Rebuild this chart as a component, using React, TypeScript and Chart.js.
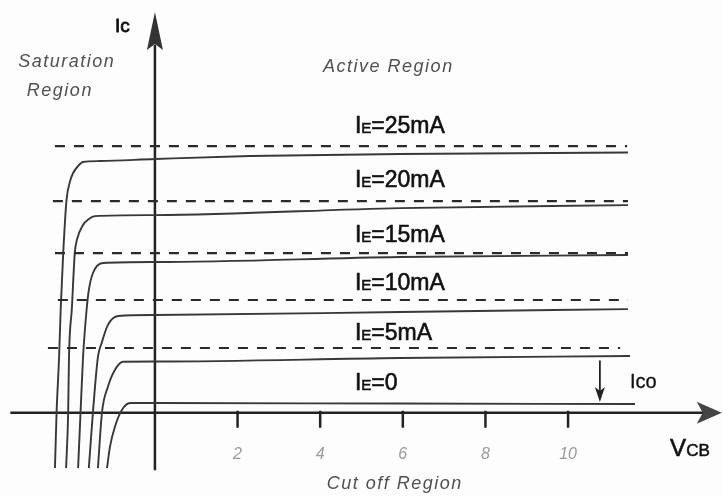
import React, { useEffect, useRef } from "react";
import { Chart, registerables } from "chart.js";

Chart.register(...registerables);

const W = 723;
const H = 497;

// Characteristic curves: VCB (V) vs IC (mA)
const curveNames = ["IE=25mA", "IE=20mA", "IE=15mA", "IE=10mA", "IE=5mA", "IE=0"];

const vcb25 = [-2.42, -2.38, -2.32, -2.28, -2.22, -2.14, -2.06, -1.98, -1.86, -1.74, -1.33, 0, 2.3, 5.93, 11.45];
const ic25 = [-5.19, 0.07, 5.22, 9.82, 14.97, 19.94, 21.63, 22.48, 23.13, 23.51, 23.6, 23.79, 24.07, 24.26, 24.4];

const vcb20 = [-2.15, -2.1, -2.08, -2.01, -1.94, -1.89, -1.74, -1.6, -1.45, 0, 5.93, 11.45];
const ic20 = [-5.19, 0.07, 5.22, 9.82, 14.97, 16.19, 17.6, 18.16, 18.44, 18.53, 19.19, 19.47];

const vcb15 = [-1.86, -1.8, -1.74, -1.65, -1.6, -1.5, -1.26, 0, 5.93, 11.45];
const ic15 = [-5.19, 0.07, 5.22, 9.82, 11.5, 13.1, 14.04, 14.13, 14.6, 14.79];

const vcb10 = [-1.6, -1.5, -1.38, -1.29, -1.14, -0.89, 0, 5.93, 11.45];
const ic10 = [-5.19, 0.07, 5.22, 6.54, 8.22, 9.07, 9.16, 9.44, 9.72];

const vcb5 = [-1.38, -1.28, -1.14, -0.97, -0.77, 0, 5.93, 11.5];
const ic5 = [-5.19, 0.07, 2.41, 4.01, 4.78, 4.8, 5.13, 5.32];

const vcb0 = [-1.16, -1.09, -0.97, -0.8, -0.6, 0, 5.93, 11.62];
const ic0 = [-5.19, -3.22, -1.34, 0.25, 0.91, 0.91, 0.86, 0.82];

// Dashed IE reference levels
const dashedLevels = [25.0, 19.85, 14.97, 10.57, 6.07];
const dashedStart = [-2.42, -2.47, -2.42, -2.35, -2.59];
const dashedEnd = [11.43, 11.45, 11.45, 11.45, 11.26];

// Axis ticks
const xTicks = [2, 4, 6, 8, 10];
const xTickLabels = ["2", "4", "6", "8", "10"];

// Axis extents (data units)
const X_MIN = -3.75;
const X_MAX = 13.75;
const Y_MIN = -7.9;
const Y_MAX = 38.7;

const curvesX = [vcb25, vcb20, vcb15, vcb10, vcb5, vcb0];
const curvesY = [ic25, ic20, ic15, ic10, ic5, ic0];

// Curve label anchors (left x, baseline y) in data units
const curveLabelX = [4.84, 4.84, 4.84, 4.84, 4.84, 4.84];
const curveLabelY = [26.22, 21.16, 16.0, 11.5, 6.82, 2.13];

const FONT = "'Liberation Sans', Arial, sans-serif";

type Part = [string, number];

function drawParts(
  ctx: CanvasRenderingContext2D,
  x: number,
  y: number,
  parts: Part[],
  italic = false,
  spacing = "0px",
  heavy = 0
) {
  let cx = x;
  (ctx as any).letterSpacing = spacing;
  for (const [t, s] of parts) {
    ctx.font = `${italic ? "italic " : ""}${s}px ${FONT}`;
    ctx.fillText(t, cx, y);
    if (heavy > 0) {
      ctx.lineWidth = heavy;
      ctx.strokeStyle = ctx.fillStyle as string;
      ctx.strokeText(t, cx, y);
    }
    cx += ctx.measureText(t).width;
  }
  (ctx as any).letterSpacing = "0px";
}

const diagramPlugin = {
  id: "diagram",
  beforeDraw(chart: any) {
    const ctx = chart.ctx as CanvasRenderingContext2D;
    ctx.save();
    ctx.fillStyle = "#fdfdfd";
    ctx.fillRect(0, 0, chart.width, chart.height);
    ctx.restore();
  },
  beforeDatasetsDraw(chart: any) {
    const ctx = chart.ctx as CanvasRenderingContext2D;
    const xs = chart.scales.x;
    const ys = chart.scales.y;
    const X = (v: number) => xs.getPixelForValue(v);
    const Y = (v: number) => ys.getPixelForValue(v);
    ctx.save();
    ctx.strokeStyle = "#222";
    ctx.fillStyle = "#333";
    ctx.lineWidth = 2.5;

    // Y axis
    const x0 = X(0);
    ctx.beginPath();
    ctx.moveTo(x0, Y(-5.39));
    ctx.lineTo(x0, Y(34.5));
    ctx.stroke();
    const yTip = Y(37.57);
    ctx.beginPath();
    ctx.moveTo(x0, yTip);
    ctx.lineTo(x0 - 8, yTip + 38);
    ctx.lineTo(x0, yTip + 32);
    ctx.lineTo(x0 + 8, yTip + 38);
    ctx.closePath();
    ctx.fill();

    // X axis
    const y0 = Y(0);
    ctx.beginPath();
    ctx.moveTo(X(-3.5), y0);
    ctx.lineTo(X(13.3), y0);
    ctx.stroke();
    const xTip = X(13.72);
    ctx.fillStyle = "#444";
    ctx.beginPath();
    ctx.moveTo(xTip, y0);
    ctx.lineTo(xTip - 25, y0 - 11);
    ctx.lineTo(xTip - 19, y0);
    ctx.lineTo(xTip - 25, y0 + 11);
    ctx.closePath();
    ctx.fill();

    // ticks
    ctx.lineWidth = 2.5;
    ctx.strokeStyle = "#222";
    xTicks.forEach((t) => {
      const px = X(t);
      ctx.beginPath();
      ctx.moveTo(px, y0 - 2);
      ctx.lineTo(px, y0 + 15);
      ctx.stroke();
    });
    ctx.fillStyle = "#9a9a9a";
    ctx.textAlign = "center";
    ctx.font = `italic 16px ${FONT}`;
    xTicks.forEach((t, i) => {
      ctx.fillText(xTickLabels[i], X(t), Y(-4.3));
    });
    ctx.restore();
  },
  afterDatasetsDraw(chart: any) {
    const ctx = chart.ctx as CanvasRenderingContext2D;
    const xs = chart.scales.x;
    const ys = chart.scales.y;
    const X = (v: number) => xs.getPixelForValue(v);
    const Y = (v: number) => ys.getPixelForValue(v);
    ctx.save();
    ctx.textAlign = "left";
    ctx.textBaseline = "alphabetic";

    // IE labels
    ctx.fillStyle = "#111";
    curveNames.forEach((name, i) => {
      const rest = name.slice(2);
      drawParts(ctx, X(curveLabelX[i]), Y(curveLabelY[i]), [["I", 23], ["E", 15], [rest, 23]], false, "0px", 0.6);
    });

    // axis labels
    drawParts(ctx, X(-0.965), Y(35.7), [["Ic", 19]], false, "0px", 0.8);
    drawParts(ctx, X(12.47), Y(-4.06), [["V", 24], ["CB", 17]], false, "0px", 0.6);
    drawParts(ctx, X(11.5), Y(2.32), [["Ico", 20]], false, "0px", 0.3);

    // region labels
    ctx.fillStyle = "#505050";
    drawParts(ctx, X(-3.31), Y(32.4), [["Saturation", 18]], true, "1.5px");
    drawParts(ctx, X(-3.1), Y(29.7), [["Region", 18]], true, "1.5px");
    drawParts(ctx, X(4.07), Y(31.95), [["Active Region", 18]], true, "1.5px");
    drawParts(ctx, X(4.16), Y(-7.15), [["Cut off Region", 18]], true, "1.5px");

    // ICO arrow
    const ax = X(10.77);
    const aTop = Y(4.9);
    const aTip = Y(1.0);
    ctx.strokeStyle = "#222";
    ctx.fillStyle = "#222";
    ctx.lineWidth = 1.8;
    ctx.beginPath();
    ctx.moveTo(ax, aTop);
    ctx.lineTo(ax, aTip - 6);
    ctx.stroke();
    ctx.beginPath();
    ctx.moveTo(ax, aTip);
    ctx.lineTo(ax - 5, aTip - 15);
    ctx.lineTo(ax, aTip - 11);
    ctx.lineTo(ax + 5, aTip - 15);
    ctx.closePath();
    ctx.fill();
    ctx.restore();
  },
};

export default function App() {
  const ref = useRef<HTMLCanvasElement | null>(null);

  useEffect(() => {
    if (!ref.current) return;
    const datasets: any[] = [];
    dashedLevels.forEach((lvl, i) => {
      datasets.push({
        label: `level ${lvl}`,
        data: [
          { x: dashedStart[i], y: lvl },
          { x: dashedEnd[i], y: lvl },
        ],
        showLine: true,
        borderColor: "#2a2a2a",
        borderWidth: 2.2,
        borderDash: [10, 9],
        pointRadius: 0,
        fill: false,
      });
    });
    curvesX.forEach((xsArr, i) => {
      datasets.push({
        label: curveNames[i],
        data: xsArr.map((x, j) => ({ x, y: curvesY[i][j] })),
        showLine: true,
        borderColor: "#383838",
        borderWidth: 1.9,
        pointRadius: 0,
        cubicInterpolationMode: "monotone",
        fill: false,
      });
    });

    const chart = new Chart(ref.current, {
      type: "scatter",
      data: { datasets },
      options: {
        animation: false,
        responsive: false,
        devicePixelRatio: 1,
        layout: { padding: 0 },
        plugins: { legend: { display: false }, tooltip: { enabled: false } },
        scales: {
          x: { type: "linear", min: X_MIN, max: X_MAX, display: false },
          y: { type: "linear", min: Y_MIN, max: Y_MAX, display: false },
        },
      },
      plugins: [diagramPlugin],
    });
    return () => chart.destroy();
  }, []);

  return (
    <div style={{ position: "absolute", left: 0, top: 0, width: W, height: H }}>
      <canvas ref={ref} width={W} height={H} style={{ display: "block" }} />
    </div>
  );
}
